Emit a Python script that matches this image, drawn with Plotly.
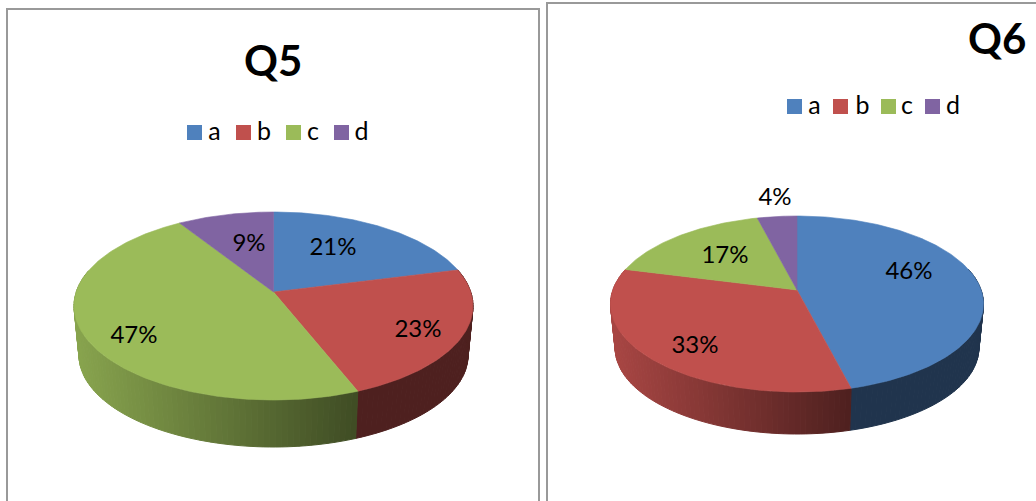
import math
import plotly.graph_objects as go

categories = ["a", "b", "c", "d"]
q5_values = [21, 23, 47, 9]
q6_values = [46, 33, 17, 4]
colors = ["#4F81BD", "#C0504D", "#9BBB59", "#8064A2"]
q5_label_pos = [(333, 249), (418, 331), (134, 337), (249, 245)]
q6_label_pos = [(909, 273), (695, 347), (725, 257), (775, 199)]
FONT = "Lato"

fig = go.Figure()


def rgb(hex_c):
    return [int(hex_c[i:i + 2], 16) for i in (1, 3, 5)]


def rim(theta, g):
    X, Y = math.sin(theta), math.cos(theta)
    w = 1 + g["k"] * Y
    return g["cx"] + g["R"] * X / w, g["cy"] - g["h"] * Y / w


def low(p, g):
    return g["cx"] + g["s"] * (p[0] - g["cx"]), g["cy"] + g["d"] + g["s"] * (p[1] - g["cy"])


def poly(xs, ys, col, lw=1.0):
    fig.add_trace(go.Scatter(x=xs, y=ys, mode="lines", fill="toself", fillcolor=col,
                             line=dict(color=col, width=lw), hoverinfo="skip", showlegend=False))


def pie(values, g):
    total = sum(values)
    bounds, c = [0.0], 0
    for v in values:
        c += v
        bounds.append(c / total * 2 * math.pi)
    left, right = g["cx"] - g["W"], g["cx"] + g["W"]
    # side wall, drawn as thin shaded strips
    for i, col in enumerate(colors):
        base = rgb(col)
        n = max(2, int((bounds[i + 1] - bounds[i]) / math.radians(1.5)))
        for j in range(n):
            a = bounds[i] + (bounds[i + 1] - bounds[i]) * j / n
            b = bounds[i] + (bounds[i + 1] - bounds[i]) * (j + 1) / n
            if math.cos((a + b) / 2) > 0.25:
                continue
            p, q = rim(a, g), rim(b, g)
            p2, q2 = low(p, g), low(q, g)
            t = ((p[0] + q[0]) / 2 - left) / (right - left)
            f = 0.88 - (0.88 - 0.41) * min(t / g["tend"], 1.0)
            shade = "rgb(%d,%d,%d)" % tuple(int(ch * f) for ch in base)
            poly([p[0], q[0], q2[0], p2[0], p[0]], [p[1], q[1], q2[1], p2[1], p[1]], shade)
    # top face
    for i, col in enumerate(colors):
        n = max(2, int((bounds[i + 1] - bounds[i]) / math.radians(1)))
        pts = [rim(bounds[i] + (bounds[i + 1] - bounds[i]) * j / n, g) for j in range(n + 1)]
        xs = [g["cx"]] + [p[0] for p in pts] + [g["cx"]]
        ys = [g["cy"]] + [p[1] for p in pts] + [g["cy"]]
        poly(xs, ys, col, 0.6)


def corr(top, bottom, width, cx, cy, s, low_bottom):
    k = (bottom - top) / (bottom + top)
    h = top * (1 + k)
    R = width * math.sqrt(1 - k * k)
    return dict(cx=cx, cy=cy, k=k, h=h, R=R, W=width, s=s, d=low_bottom - s * bottom)


q5_geom = corr(80, 108, 199.5, 273.5, 292, 0.975, 155)
q5_geom["tend"] = 0.71
q6_geom = corr(74, 102, 186.5, 797, 290, 0.975, 144)
q6_geom["tend"] = 0.64

# panel frames
GREY = "#999999"
fig.add_trace(go.Scatter(x=[7, 7, 539, 539], y=[501, 9, 9, 501], mode="lines",
                         line=dict(color=GREY, width=2), hoverinfo="skip", showlegend=False))
fig.add_trace(go.Scatter(x=[547, 547, 1036], y=[501, 3, 3], mode="lines",
                         line=dict(color=GREY, width=2), hoverinfo="skip", showlegend=False))

pie(q5_values, q5_geom)
pie(q6_values, q6_geom)


def labels(values, pos):
    fig.add_trace(go.Scatter(x=[p[0] for p in pos], y=[p[1] for p in pos], mode="text",
                             text=[f"{v}%" for v in values], textposition="middle center",
                             textfont=dict(family=FONT, size=24, color="black"),
                             hoverinfo="skip", showlegend=False))


labels(q5_values, q5_label_pos)
labels(q6_values, q6_label_pos)


def legend(sq_x, sq_y, txt_x, txt_y):
    fig.add_trace(go.Scatter(x=sq_x, y=[sq_y] * 4, mode="markers",
                             marker=dict(symbol="square", size=15, color=colors, line=dict(width=0)),
                             hoverinfo="skip", showlegend=False))
    fig.add_trace(go.Scatter(x=txt_x, y=[txt_y] * 4, mode="text", text=categories,
                             textposition="middle center",
                             textfont=dict(family=FONT, size=25, color="black"),
                             hoverinfo="skip", showlegend=False))


legend([194.5, 243.5, 293.5, 341.5], 132.5, [214.5, 264, 313, 361.5], 134)
legend([794.5, 840.5, 888.5, 932.5], 106.5, [814.5, 862.5, 907, 953], 108)

for text, x, y in [("Q5", 273, 60), ("Q6", 996.5, 38)]:
    fig.add_annotation(x=x, y=y, text=text, showarrow=False, xanchor="center", yanchor="middle",
                       font=dict(family=FONT, size=42, color="black", weight="bold"))

fig.update_layout(width=1036, height=501, margin=dict(l=0, r=0, t=0, b=0),
                  paper_bgcolor="white", plot_bgcolor="white", showlegend=False,
                  xaxis=dict(range=[0, 1036], visible=False, fixedrange=True),
                  yaxis=dict(range=[501, 0], visible=False, fixedrange=True))
fig.write_html("out.html", config=dict(displayModeBar=False),
               post_script="document.body.style.margin='0';document.documentElement.style.overflow='hidden';")
